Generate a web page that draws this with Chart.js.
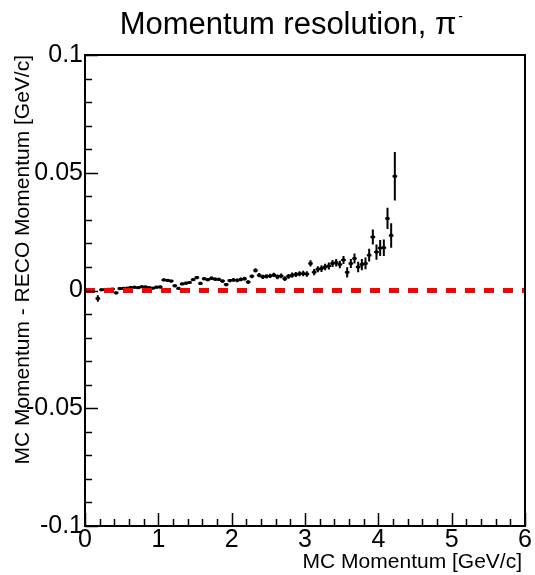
<!DOCTYPE html>
<html>
<head>
<meta charset="utf-8">
<script src="https://cdn.jsdelivr.net/npm/chart.js@4"></script>
<style>
  html, body { margin: 0; padding: 0; background: #fff; }
  #wrap { width: 535px; height: 575px; }
</style>
</head>
<body>
<div id="wrap"><canvas id="chart1" width="535" height="575"></canvas></div>
<script>
// MC momentum bin centres [GeV/c]
const momentum = [
  0.175, 0.225, 0.275, 0.325, 0.375, 0.425, 0.475, 0.525, 0.575, 0.625,
  0.675, 0.725, 0.775, 0.825, 0.875, 0.925, 0.975, 1.025, 1.075, 1.125,
  1.175, 1.225, 1.275, 1.325, 1.375, 1.425, 1.475, 1.525, 1.575, 1.625,
  1.675, 1.725, 1.775, 1.825, 1.875, 1.925, 1.975, 2.025, 2.075, 2.125,
  2.175, 2.225, 2.275, 2.325, 2.375, 2.425, 2.475, 2.525, 2.575, 2.625,
  2.675, 2.725, 2.775, 2.825, 2.875, 2.925, 2.975, 3.025, 3.075, 3.125,
  3.175, 3.225, 3.275, 3.325, 3.375, 3.425, 3.475, 3.525, 3.575, 3.625,
  3.675, 3.725, 3.775, 3.825, 3.875, 3.925, 3.975, 4.025, 4.075, 4.125,
  4.175, 4.225
];
// MC - RECO momentum [GeV/c]
const resolution = [
  -0.0034, 0.0003, 0.0004, 0.0005, 0.0006, -0.0010, 0.0008, 0.0009, 0.0010, 0.0013,
  0.0014, 0.0012, 0.0016, 0.0015, 0.0012, 0.0010, 0.0014, 0.0015, 0.0045, 0.0043,
  0.0040, 0.0020, 0.0009, 0.0028, 0.0031, 0.0034, 0.0046, 0.0055, 0.0030, 0.0050,
  0.0046, 0.0052, 0.0048, 0.0047, 0.0040, 0.0025, 0.0042, 0.0045, 0.0043, 0.0047,
  0.0050, 0.0036, 0.0060, 0.0085, 0.0065, 0.0058, 0.0060, 0.0062, 0.0066, 0.0058,
  0.0062, 0.0050, 0.0060, 0.0065, 0.0068, 0.0071, 0.0072, 0.0070, 0.0115, 0.0078,
  0.0090, 0.0093, 0.0100, 0.0104, 0.0115, 0.0118, 0.0110, 0.0130, 0.0077, 0.0115,
  0.0136, 0.0100, 0.0110, 0.0115, 0.0150, 0.0227, 0.0163, 0.0180, 0.0182, 0.0306,
  0.0234, 0.0485
];
// error on the mean
const resolutionErr = [
  0.0014, 0.0005, 0.0005, 0.0005, 0.0005, 0.0006, 0.0005, 0.0005, 0.0005, 0.0005,
  0.0005, 0.0005, 0.0005, 0.0005, 0.0005, 0.0005, 0.0006, 0.0006, 0.0006, 0.0006,
  0.0006, 0.0006, 0.0006, 0.0006, 0.0006, 0.0006, 0.0006, 0.0007, 0.0007, 0.0007,
  0.0007, 0.0007, 0.0007, 0.0007, 0.0007, 0.0007, 0.0007, 0.0008, 0.0008, 0.0008,
  0.0008, 0.0008, 0.0008, 0.0009, 0.0009, 0.0009, 0.0009, 0.0009, 0.0009, 0.0010,
  0.0010, 0.0010, 0.0010, 0.0011, 0.0011, 0.0011, 0.0012, 0.0012, 0.0013, 0.0013,
  0.0013, 0.0014, 0.0014, 0.0015, 0.0015, 0.0016, 0.0016, 0.0017, 0.0022, 0.0019,
  0.0021, 0.0022, 0.0024, 0.0025, 0.0027, 0.0032, 0.0032, 0.0034, 0.0035, 0.0045,
  0.0052, 0.0103
];
const binHalfWidth = 0.025;

const xRange = [0, 6];
const yRange = [-0.1, 0.1];
const zeroLine = [0, 0];
const xTicks = [0, 1, 2, 3, 4, 5, 6];
const yTicks = [-0.1, -0.05, 0, 0.05, 0.1];
const yTickLabels = ['-0.1', '-0.05', '0', '0.05', '0.1'];

const titleText = 'Momentum resolution, \u03c0';
const xTitle = 'MC Momentum [GeV/c]';
const yTitle = 'MC Momentum - RECO Momentum [GeV/c]';

const FONT = '"Liberation Sans", Arial, Helvetica, sans-serif';

// ROOT-ish frame: box, inward ticks, error bars, titles
const rootStyle = {
    id: 'rootStyle',
    beforeDatasetsDraw(chart) {
        const ctx = chart.ctx;
        const xs = chart.scales.x, ys = chart.scales.y;
        ctx.save();
        ctx.strokeStyle = '#000';
        ctx.fillStyle = '#000';
        ctx.lineWidth = 2;
        for (let i = 0; i < momentum.length; i++) {
            const px = xs.getPixelForValue(momentum[i]);
            const py = ys.getPixelForValue(resolution[i]);
            const x0 = xs.getPixelForValue(momentum[i] - binHalfWidth);
            const x1 = xs.getPixelForValue(momentum[i] + binHalfWidth);
            const y0 = ys.getPixelForValue(resolution[i] - resolutionErr[i]);
            const y1 = ys.getPixelForValue(resolution[i] + resolutionErr[i]);
            ctx.beginPath();
            ctx.moveTo(x0 - 0.5, py);
            ctx.lineTo(x1 + 0.5, py);
            ctx.moveTo(px, y0);
            ctx.lineTo(px, y1);
            ctx.stroke();
            ctx.fillRect(px - 1.5, py - 1.5, 3, 3);
        }
        ctx.restore();
    },
    afterDraw(chart) {
        const ctx = chart.ctx;
        const a = chart.chartArea;
        const xs = chart.scales.x, ys = chart.scales.y;
        ctx.save();
        ctx.strokeStyle = '#000';
        ctx.lineWidth = 2;
        ctx.strokeRect(a.left, a.top, a.right - a.left, a.bottom - a.top);

        ctx.lineWidth = 1.5;
        ctx.beginPath();
        // x ticks: major every 1, minor every 0.2
        for (let k = 0; k <= 30; k++) {
            const v = k * 0.2;
            const px = Math.round(xs.getPixelForValue(v)) + 0.5;
            const len = (k % 5 === 0) ? 13 : 7;
            ctx.moveTo(px, a.bottom);
            ctx.lineTo(px, a.bottom - len);
        }
        // y ticks: major every 0.05, minor every 0.01
        for (let k = 0; k <= 20; k++) {
            const v = -0.1 + k * 0.01;
            const py = Math.round(ys.getPixelForValue(v)) + 0.5;
            const len = (k % 5 === 0) ? 13 : 7;
            ctx.moveTo(a.left, py);
            ctx.lineTo(a.left + len, py);
        }
        ctx.stroke();

        ctx.fillStyle = '#000';
        // main title
        ctx.font = '31px ' + FONT;
        ctx.textBaseline = 'alphabetic';
        ctx.textAlign = 'left';
        const tw = ctx.measureText(titleText).width;
        const tx = 288 - tw / 2;
        ctx.fillText(titleText, tx, 34);
        ctx.font = '14px ' + FONT;
        ctx.fillText('-', tx + tw + 2, 21);

        // x axis title
        ctx.font = '21px ' + FONT;
        ctx.textAlign = 'right';
        ctx.fillText(xTitle, a.right - 3, 568);

        // y axis title
        ctx.translate(29, a.top);
        ctx.rotate(-Math.PI / 2);
        ctx.textAlign = 'right';
        ctx.fillText(yTitle, 0, 0);
        ctx.restore();
    }
};

new Chart(document.getElementById('chart1').getContext('2d'), {
    type: 'scatter',
    data: {
        datasets: [{
            type: 'line',
            data: xRange.map((x, i) => ({ x: x, y: zeroLine[i] })),
            borderColor: '#ff0000',
            borderWidth: 5,
            borderDash: [10, 9],
            pointRadius: 0,
            fill: false
        }, {
            data: momentum.map((x, i) => ({ x: x, y: resolution[i] })),
            pointRadius: 0,
            showLine: false
        }]
    },
    options: {
        responsive: false,
        animation: false,
        layout: { padding: { top: 55, right: 10, left: 0, bottom: 0 } },
        plugins: {
            legend: { display: false },
            tooltip: { enabled: false }
        },
        scales: {
            x: {
                type: 'linear',
                min: xRange[0],
                max: xRange[1],
                afterFit: s => { s.height = 49; },
                afterBuildTicks: s => { s.ticks = xTicks.map(v => ({ value: v })); },
                grid: { display: false, drawTicks: false },
                border: { display: false },
                ticks: {
                    padding: -1,
                    color: '#000',
                    font: { family: FONT, size: 25 },
                    maxRotation: 0,
                    callback: v => String(v)
                }
            },
            y: {
                type: 'linear',
                min: yRange[0],
                max: yRange[1],
                afterFit: s => { s.width = 85; },
                afterBuildTicks: s => { s.ticks = yTicks.map(v => ({ value: v })); },
                grid: { display: false, drawTicks: false },
                border: { display: false },
                ticks: {
                    padding: 2,
                    color: '#000',
                    font: { family: FONT, size: 25 },
                    callback: (v, i) => yTickLabels[i]
                }
            }
        }
    },
    plugins: [rootStyle]
});
</script>
</body>
</html>
